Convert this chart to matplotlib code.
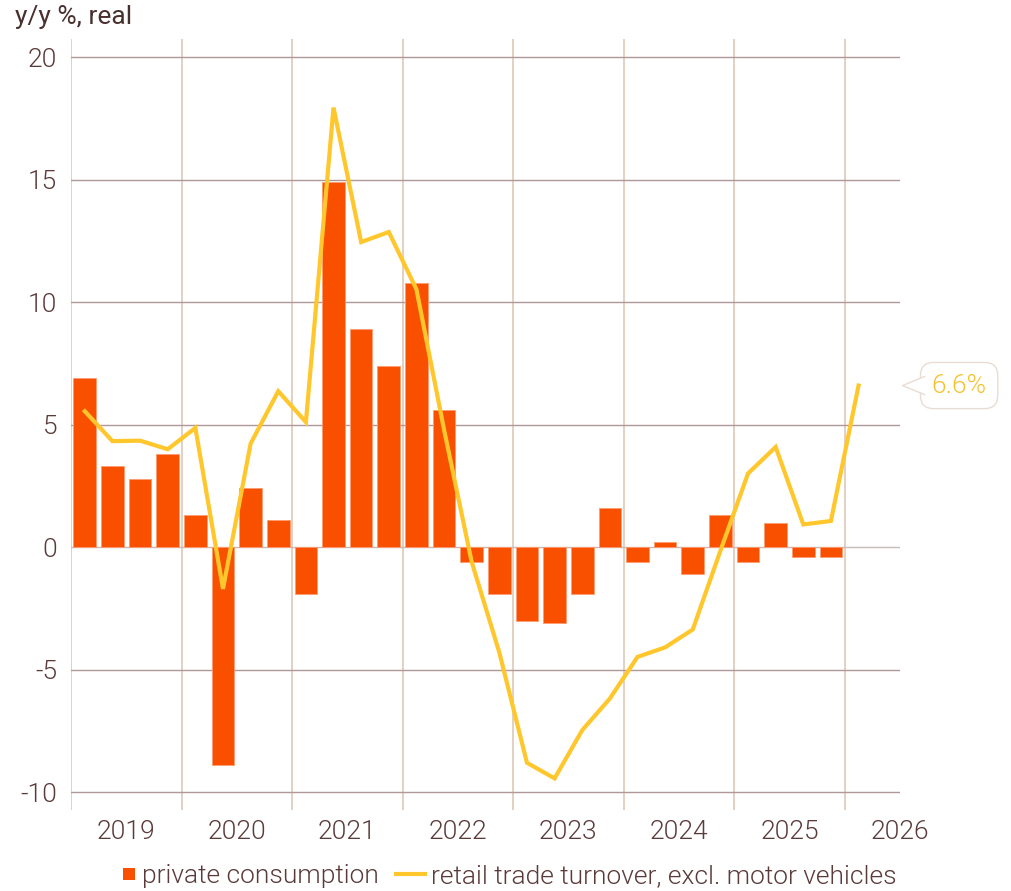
import numpy as np
from matplotlib import pyplot as plt
from matplotlib.lines import Line2D
from matplotlib.patches import Patch, Polygon, Rectangle
from matplotlib.legend_handler import HandlerPatch
from matplotlib.transforms import Affine2D

## quarterly y/y changes, 2019 Q1 - 2025 Q4
consumption = [
    6.9, 3.3, 2.8, 3.8,
    1.3, -8.9, 2.4, 1.1,
    -1.9, 14.9, 8.9, 7.4,
    10.8, 5.6, -0.6, -1.9,
    -3.0, -3.1, -1.9, 1.6,
    -0.6, 0.2, -1.1, 1.3,
    -0.6, 1.0, -0.4, -0.4,
]

## retail trade, 2019 Q1 - 2026 Q1
retail = [
    5.55, 4.33, 4.35, 4.0,
    4.87, -1.7, 4.23, 6.37,
    5.11, 17.95, 12.46, 12.87,
    10.53, 4.8, -0.6, -4.3,
    -8.8, -9.44, -7.47, -6.18,
    -4.48, -4.09, -3.36, -0.15,
    3.01, 4.09, 0.93, 1.07,
    6.6,
]

years = list(range(2019, 2027))
yticks = [-10, -5, 0, 5, 10, 15, 20]

bar_color = "#f95000"
line_color = "#ffc72c"
text_color = "#5b3a3a"
FS = 19
LIGHT = 300

plt.rcParams["font.family"] = ["Roboto", "DejaVu Sans"]

fig = plt.figure(figsize=(10.11, 8.91), dpi=100)
ax = fig.add_axes([71 / 1011, 81 / 891, 829 / 1011, 771 / 891])

x_bar = 2019 + (np.arange(len(consumption)) + 0.5) / 4
x_line = 2019 + (np.arange(len(retail)) + 0.5) / 4

ax.bar(x_bar, consumption, width=0.205, color=bar_color,
       edgecolor="#ff9a70", linewidth=0.6, zorder=2)
ax.plot(x_line, retail, color=line_color, lw=3, zorder=3,
        solid_joinstyle="miter")

ax.set_xlim(2019, 2026.5)
ax.set_ylim(-10.73, 20.75)

## grid
for y in yticks:
    ax.axhline(y, color="#c9bbbb" if y == 0 else "#b09898", lw=1, zorder=1)
for yr in years:
    ax.axvline(yr, color="#e0cdbd", lw=1.3, zorder=0.5)

for side in ax.spines.values():
    side.set_visible(False)

ax.set_yticks(yticks)
ax.set_yticklabels([str(v) for v in yticks])
ax.set_xticks([y + 0.5 for y in years])
ax.set_xticklabels([str(y) for y in years])
ax.tick_params(axis="y", length=0, pad=10, labelsize=FS, labelcolor=text_color)
ax.tick_params(axis="x", length=0, pad=7, labelsize=FS, labelcolor=text_color)
for lab in ax.get_xticklabels() + ax.get_yticklabels():
    lab.set_fontweight(LIGHT)

fig.text(15 / 1011, 1 - 17 / 891, "y/y %, real", color="#4a2f2f",
         fontsize=FS, va="center", ha="left")

## value callout for last retail point
last_x, last_y = x_line[-1], retail[-1]
ax.annotate(f"{last_y:.1f}%", xy=(last_x, last_y), xytext=(73, 0),
            textcoords="offset pixels", ha="left", va="center",
            fontsize=FS, fontweight=LIGHT, color="#f7c12e", zorder=5,
            annotation_clip=False,
            bbox=dict(boxstyle="round,pad=0.42,rounding_size=0.5", fc="white",
                      ec="#e8ddd5", lw=1))
px, py = ax.transData.transform((last_x, last_y))
tri = Affine2D().translate(px, py)
ax.add_patch(Polygon([(44, 0), (67, 10), (67, -10)], closed=True,
                     fc="white", ec="none", transform=tri, clip_on=False, zorder=6))
ax.add_line(Line2D([66, 44, 66], [9, 0, -9], color="#e8ddd5", lw=1,
                   transform=tri, clip_on=False, zorder=7))


def square_patch(legend, orig_handle, xdescent, ydescent, width, height, fontsize):
    s = 8.6
    return Rectangle((-xdescent + width - s, -ydescent + (height - s) / 2), s, s)


handles = [
    Patch(facecolor=bar_color, edgecolor="none", label="private consumption"),
    Line2D([0], [0], color=line_color, lw=3,
           label="retail trade turnover, excl. motor vehicles"),
]
leg = fig.legend(handles=handles, loc="center",
                 bbox_to_anchor=(0.5 - 4 / 1011, 1 - 876 / 891),
                 ncol=2, frameon=False, fontsize=FS, handlelength=1.1,
                 handletextpad=0.25, columnspacing=0.65,
                 handler_map={Patch: HandlerPatch(patch_func=square_patch)})
for t in leg.get_texts():
    t.set_color(text_color)
    t.set_fontweight(LIGHT)

fig.savefig("out.png", dpi=100)
